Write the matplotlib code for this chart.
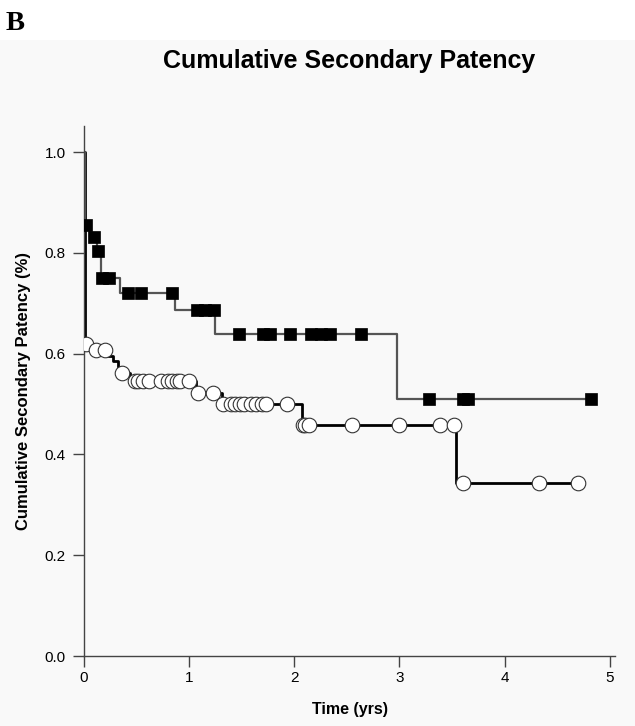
import numpy as np
import matplotlib
matplotlib.use('Agg')
from matplotlib import pyplot as plt
from matplotlib.patches import Rectangle

plt.rcParams['font.family'] = ['Liberation Sans', 'DejaVu Sans']

# 方块组: 阶梯点 (时间, 累计通畅率) 和删失点时间
sq_step_t = [0.0, 0.01, 0.06, 0.12, 0.158, 0.34, 0.865, 1.245, 2.98]
sq_step_s = [1.0, 0.855, 0.831, 0.804, 0.751, 0.721, 0.686, 0.640, 0.511]
sq_cens_t = [0.02, 0.097, 0.135, 0.17, 0.24, 0.418, 0.542, 0.833, 1.07, 1.15,
             1.235, 1.475, 1.70, 1.77, 1.955, 2.16, 2.25, 2.34, 2.635, 3.28,
             3.60, 3.65, 4.82]

# 圆圈组
ci_step_t = [0.0, 0.008, 0.06, 0.23, 0.28, 0.32, 0.35, 0.44, 1.065, 1.31, 2.07, 3.54]
ci_step_s = [1.0, 0.620, 0.607, 0.596, 0.585, 0.573, 0.562, 0.546, 0.523, 0.500, 0.458, 0.343]
ci_cens_t = [0.02, 0.114, 0.20, 0.358, 0.485, 0.516, 0.564, 0.621, 0.729, 0.802,
             0.833, 0.881, 0.913, 1.0, 1.087, 1.23, 1.324, 1.394, 1.435, 1.483,
             1.524, 1.585, 1.64, 1.69, 1.73, 1.926, 2.085, 2.10, 2.14, 2.545,
             2.995, 3.39, 3.52, 3.60, 4.33, 4.70]

x_ticks = [0, 1, 2, 3, 4, 5]
y_ticks = [0.0, 0.2, 0.4, 0.6, 0.8, 1.0]


def step_value(step_t, step_s, t):
    # 删失点落在阶梯曲线上
    idx = np.searchsorted(step_t, t, side='right') - 1
    return np.asarray(step_s)[idx]


def step_line(step_t, step_s, t_end):
    return list(step_t) + [t_end], list(step_s) + [step_s[-1]]


fig = plt.figure(figsize=(6.35, 7.26), dpi=100, facecolor='white')
bg = '#f9f9f9'
fig.patches.append(Rectangle((0, 0), 1, 1 - 40 / 726, transform=fig.transFigure,
                             facecolor=bg, edgecolor='none', zorder=-10))

ax = fig.add_axes([84 / 635, 70 / 726, 531 / 635, 530 / 726])
ax.set_facecolor(bg)

# 圆圈组曲线
xs, ys = step_line(ci_step_t, ci_step_s, max(ci_cens_t))
ax.step(xs, ys, where='post', color='black', lw=2, zorder=2)
ax.plot(ci_cens_t, step_value(ci_step_t, ci_step_s, ci_cens_t), 'o', ms=10.5,
        mfc='white', mec='#333333', mew=0.8, zorder=3)

# 方块组曲线
xs, ys = step_line(sq_step_t, sq_step_s, max(sq_cens_t))
ax.step(xs, ys, where='post', color='#555555', lw=1.6, zorder=2)
ax.plot(sq_cens_t, step_value(sq_step_t, sq_step_s, sq_cens_t), 's', ms=8.8,
        mfc='black', mec='black', mew=0.5, zorder=4)

ax.set_xlim(0, 5.05)
ax.set_ylim(0, 1.052)
ax.set_xticks(x_ticks)
ax.set_yticks(y_ticks)
ax.set_xticklabels([str(v) for v in x_ticks])
ax.set_yticklabels(['%.1f' % v for v in y_ticks])
ax.tick_params(direction='out', length=8, width=1, color='#444444', labelsize=11)
ax.tick_params(axis='y', pad=5)
ax.tick_params(axis='x', pad=3)
for side in ['top', 'right']:
    ax.spines[side].set_visible(False)
for side in ['left', 'bottom']:
    ax.spines[side].set_color('#444444')
    ax.spines[side].set_linewidth(1)

ax.set_xlabel('Time (yrs)', fontsize=11.5, fontweight='bold', labelpad=12)
ax.set_ylabel('Cumulative Secondary Patency (%)', fontsize=12, fontweight='bold', labelpad=10)

fig.text(349.5 / 635, 1 - 61 / 726, 'Cumulative Secondary Patency', ha='center', va='center',
         fontsize=18, fontweight='bold')
fig.text(6 / 635, 1 - 23 / 726, 'B', ha='left', va='center', fontsize=20.5,
         fontweight='bold', family='Liberation Serif')

fig.savefig('out.png', dpi=100, facecolor=fig.get_facecolor())
